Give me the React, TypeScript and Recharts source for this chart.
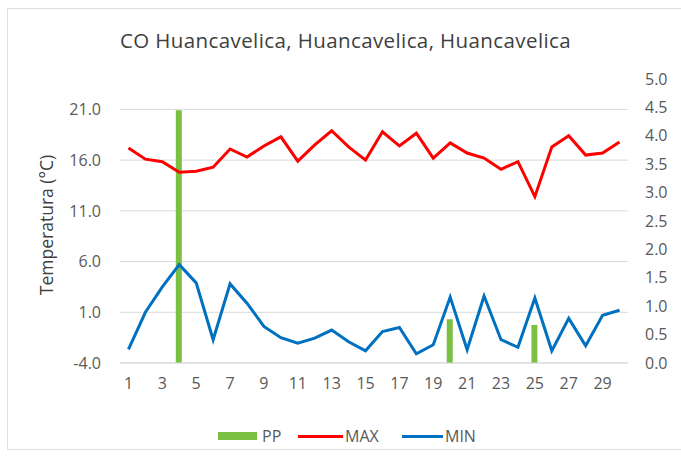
import React from 'react';
import { ComposedChart, Bar, Line, XAxis, YAxis, CartesianGrid } from 'recharts';

// day of month
const days = [
  1, 2, 3, 4, 5, 6, 7, 8, 9, 10, 11, 12, 13, 14, 15,
  16, 17, 18, 19, 20, 21, 22, 23, 24, 25, 26, 27, 28, 29, 30,
];

// max temperature (°C)
const maxTemp = [
  17.2, 16.1, 15.85, 14.8, 14.9, 15.3, 17.1, 16.3, 17.4, 18.3, 15.9, 17.5, 18.9, 17.3, 16.0,
  18.8, 17.4, 18.65, 16.2, 17.7, 16.7, 16.2, 15.1, 15.85, 12.4, 17.3, 18.4, 16.5, 16.7, 17.8,
];

// min temperature (°C)
const minTemp = [
  -2.65, 1.0, 3.5, 5.7, 3.9, -1.7, 3.8, 1.9, -0.4, -1.5, -2.05, -1.55, -0.75, -1.9, -2.8,
  -0.9, -0.5, -3.1, -2.2, 2.5, -2.7, 2.6, -1.7, -2.45, 2.4, -2.8, 0.4, -2.3, 0.7, 1.2,
];

// precipitation (right axis)
const precip = [
  0, 0, 0, 4.45, 0, 0, 0, 0, 0, 0, 0, 0, 0, 0, 0,
  0, 0, 0, 0, 0.77, 0, 0, 0, 0, 0.67, 0, 0, 0, 0, 0,
];

const leftDomain: [number, number] = [-4, 24];
const leftTicks = [-4, 1, 6, 11, 16, 21];
const rightTicks = [0, 0.5, 1, 1.5, 2, 2.5, 3, 3.5, 4, 4.5, 5];

const data = days.map((d, i) => ({
  day: d,
  PP: precip[i],
  MAX: maxTemp[i],
  MIN: minTemp[i],
}));

const FONT = '"Open Sans", sans-serif';
const GREEN = '#7AC143';
const RED = '#FF0000';
const BLUE = '#0070C0';
const tickStyle = { fontSize: 16, fill: '#595959', fontFamily: FONT };

// gridlines only at the left axis ticks
const gridRows = ({ offset }: any) =>
  leftTicks.map(
    (t) => offset.top + (offset.height * (leftDomain[1] - t)) / (leftDomain[1] - leftDomain[0]),
  );

const LegendItem = ({
  left,
  color,
  label,
  swatch,
  bar,
}: {
  left: number;
  color: string;
  label: string;
  swatch: number;
  bar?: boolean;
}) => (
  <div style={{ position: 'absolute', left, top: 0, display: 'flex', alignItems: 'center', height: 20 }}>
    <div style={{ width: swatch, height: bar ? 8 : 3, background: color, marginRight: bar ? 5 : 2 }} />
    <span>{label}</span>
  </div>
);

export default function App() {
  return (
    <div
      style={{
        position: 'absolute',
        left: 0,
        top: 0,
        width: 681,
        height: 459,
        background: '#fff',
        fontFamily: FONT,
        overflow: 'hidden',
      }}
    >
      <div
        style={{
          position: 'absolute',
          left: 7,
          top: 8,
          width: 700,
          height: 440,
          border: '1px solid #dedede',
        }}
      />
      <div
        style={{
          position: 'absolute',
          top: 26,
          left: 0,
          width: 691,
          textAlign: 'center',
          fontSize: 20.5,
          letterSpacing: 0.4,
          color: '#404040',
        }}
      >
        CO Huancavelica, Huancavelica, Huancavelica
      </div>
      <div
        style={{
          position: 'absolute',
          left: 46,
          top: 225,
          transform: 'translate(-50%, -50%) rotate(-90deg)',
          whiteSpace: 'nowrap',
          fontSize: 17.5,
          color: '#404040',
        }}
      >
        Temperatura (°C)
      </div>

      <ComposedChart
        width={681}
        height={459}
        data={data}
        margin={{ top: 79, right: 0, left: 0, bottom: 66 }}
        style={{ position: 'absolute', left: 0, top: 0 }}
      >
        <CartesianGrid
          yAxisId="left"
          vertical={false}
          stroke="#d9d9d9"
          horizontalCoordinatesGenerator={gridRows}
        />
        <XAxis
          dataKey="day"
          interval={1}
          height={30}
          tickLine={false}
          axisLine={{ stroke: '#d9d9d9' }}
          tick={tickStyle}
          tickMargin={9}
        />
        <YAxis
          yAxisId="left"
          width={120}
          domain={leftDomain}
          ticks={leftTicks}
          tickFormatter={(v: number) => v.toFixed(1)}
          tickLine={false}
          axisLine={false}
          tick={tickStyle}
          tickMargin={13}
        />
        <YAxis
          yAxisId="right"
          orientation="right"
          width={53}
          domain={[0, 5]}
          ticks={rightTicks}
          tickFormatter={(v: number) => v.toFixed(1)}
          tickLine={false}
          axisLine={false}
          tick={{ ...tickStyle, textAnchor: 'start' }}
          tickMargin={11}
        />
        <Bar yAxisId="right" dataKey="PP" fill={GREEN} barSize={6} isAnimationActive={false} />
        <Line
          yAxisId="left"
          type="linear"
          dataKey="MAX"
          stroke={RED}
          strokeWidth={3}
          dot={false}
          isAnimationActive={false}
        />
        <Line
          yAxisId="left"
          type="linear"
          dataKey="MIN"
          stroke={BLUE}
          strokeWidth={3}
          dot={false}
          isAnimationActive={false}
        />
      </ComposedChart>

      <div
        style={{
          position: 'absolute',
          top: 426,
          left: 0,
          width: 681,
          height: 20,
          fontSize: 16,
          color: '#595959',
        }}
      >
        <LegendItem left={218} swatch={39} color={GREEN} label="PP" bar />
        <LegendItem left={298} swatch={45} color={RED} label="MAX" />
        <LegendItem left={402} swatch={41} color={BLUE} label="MIN" />
      </div>
    </div>
  );
}
